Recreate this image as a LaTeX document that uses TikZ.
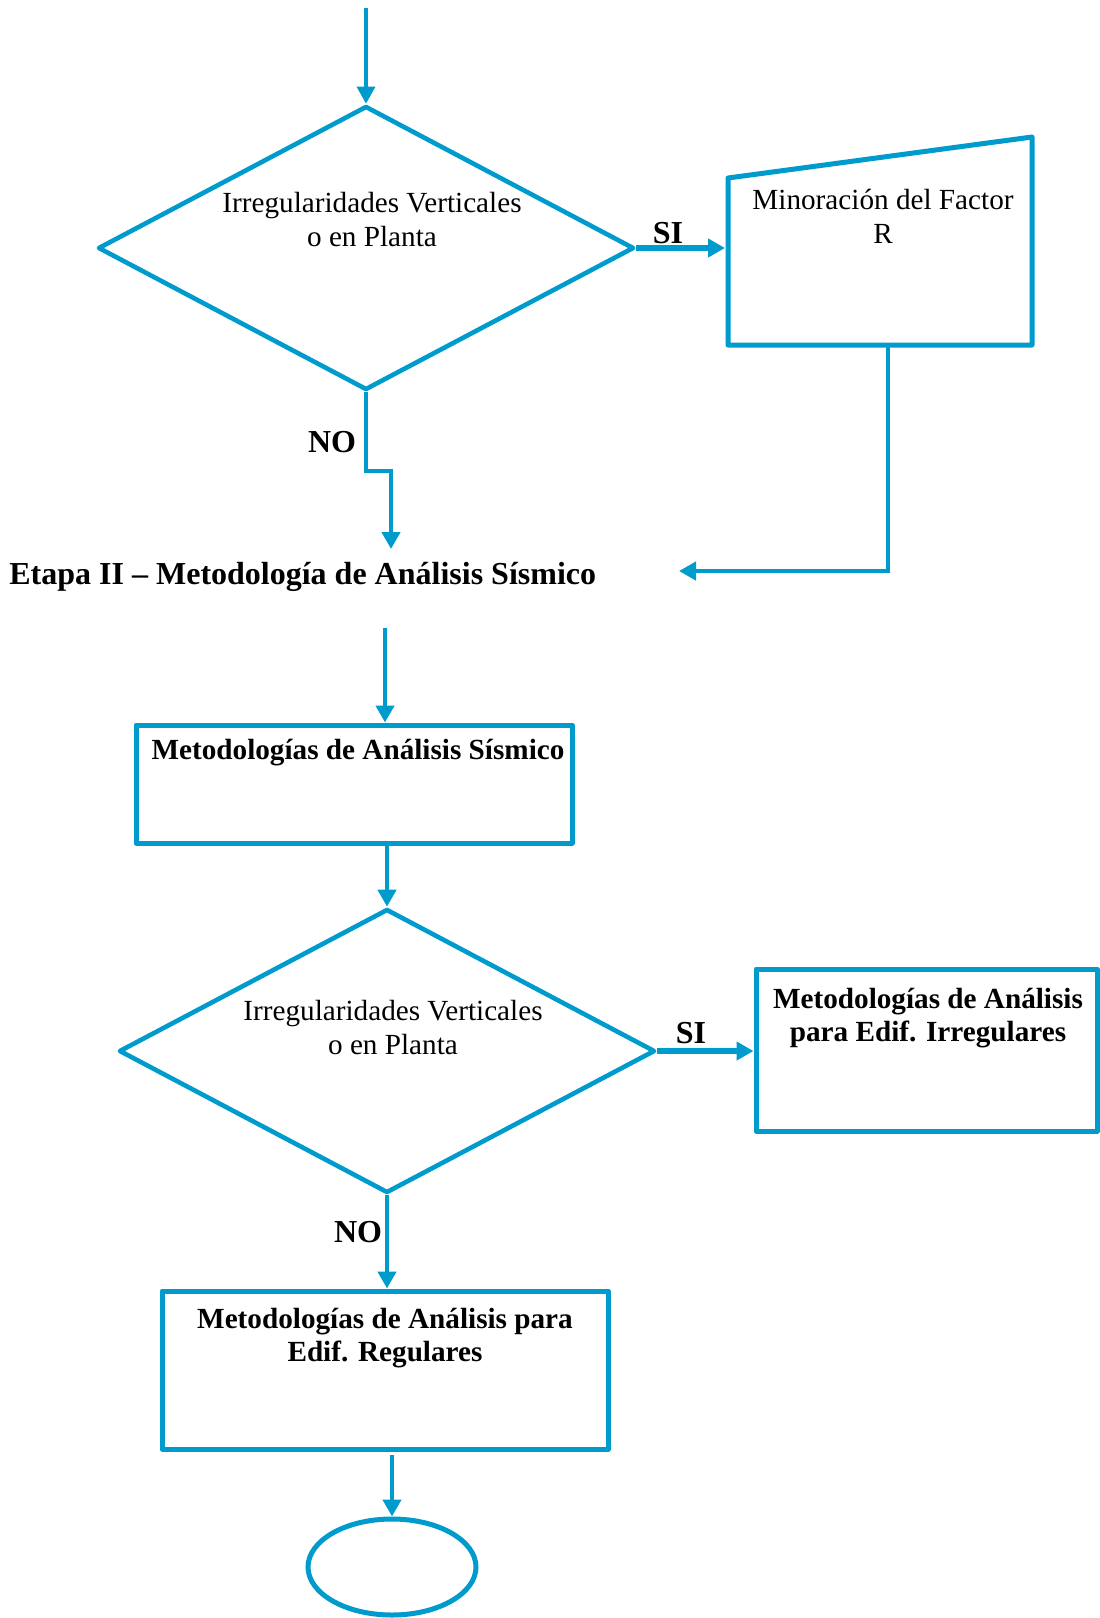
\documentclass[tikz,border=0pt]{standalone}
\usepackage{fontspec}
\setmainfont{Liberation Serif}
\usetikzlibrary{arrows.meta,shapes.geometric}
\definecolor{flow}{RGB}{0,155,205}
\begin{document}
\begin{tikzpicture}[x=0.5pt,y=-0.5pt,
  decision/.style={draw=flow,line width=2.3pt,diamond,minimum width=268pt,
    minimum height=142pt,inner sep=0pt,line join=round},
  procbox/.style={draw=flow,line width=2.5pt,rectangle,inner sep=0pt,line join=round},
  flowarrow/.style={draw=flow,line width=2.1pt,-{Triangle[length=8.5pt,width=9pt]}},
  thickarrow/.style={flowarrow,line width=2.6pt},
  plain/.style={font=\fontsize{14.6}{17}\selectfont,align=center,inner sep=0pt},
  strong/.style={font=\fontsize{14.6}{16.5}\selectfont\bfseries,align=center,inner sep=0pt},
  answer/.style={font=\fontsize{16}{18}\selectfont\bfseries,inner sep=0pt},
]
\useasboundingbox (0,0) rectangle (1099,1618);

% ---- first decision and the R reduction block ----
\coordinate (start) at (366,8);
\node[decision] (d1) at (366,248) {};
\node[plain] (d1t) at (372,220) {Irregularidades Verticales\\o en Planta};

\coordinate (m-sw) at (728,345);
\coordinate (m-nw) at (728,178);
\coordinate (m-ne) at (1032,137);
\coordinate (m-se) at (1032,345);
\draw[draw=flow,line width=2.5pt,line join=round] (m-sw) -- (m-nw) -- (m-ne) -- (m-se) -- cycle;
\node[plain] (mt) at (883,216) {Minoración del Factor\\R};
\coordinate (m-in) at (725,250);
\coordinate (m-out) at (888,345);

\node[answer] (si1) at (668,233) {SI};
\node[answer] (no1) at (332,442) {NO};

% ---- stage title ----
\node[font=\fontsize{16}{18}\selectfont\bfseries,anchor=base west,inner sep=0pt] (etapa) at (9,584)
  {Etapa II – Metodología de Análisis Sísmico};
\coordinate (no1bend) at (391,471);
\coordinate (no1end) at (391,549);
\coordinate (back) at (679,571);

% ---- analysis methodologies ----
\coordinate (start2) at (385,628);
\node[procbox,minimum width=218pt,minimum height=59pt] (b1) at (354,784) {};
\node[strong,anchor=base] (b1t) at (358,759) {Metodologías de Análisis Sísmico};

\node[decision] (d2) at (387,1051) {};
\node[plain] (d2t) at (393,1027) {Irregularidades Verticales\\o en Planta};

\node[procbox,minimum width=170.5pt,minimum height=81pt] (irr) at (926.5,1050) {};
\node[strong] (irrt) at (928,1018) {Metodologías de Análisis\\para Edif. Irregulares};

\node[answer] (si2) at (691,1033) {SI};
\node[answer] (no2) at (358,1232) {NO};

\node[procbox,minimum width=223pt,minimum height=79pt] (reg) at (385,1370) {};
\node[strong] (regt) at (385,1338) {Metodologías de Análisis para\\Edif. Regulares};

\node[draw=flow,line width=2.5pt,ellipse,minimum width=84pt,minimum height=48pt,inner sep=0pt] (fin) at (392,1567) {};
\coordinate (start3) at (392,1455);

% ---- connectors ----
\draw[flowarrow,line width=1.6pt] (start) -- (d1.north);
\draw[thickarrow] (d1.east) -- (d1.east -| m-in);
\draw[flowarrow] (d1.south) -- (d1.south |- no1bend) -| (no1end);
\draw[flowarrow] (m-out) |- (back);
\draw[flowarrow] (start2) -- (start2 |- b1.north);
\draw[flowarrow] (b1.south -| d2.north) -- (d2.north);
\draw[thickarrow] (d2.east) -- (d2.east -| irr.west);
\draw[flowarrow] (d2.south) -- (d2.south |- reg.north);
\draw[flowarrow] (start3) -- (fin.north);
\end{tikzpicture}
\end{document}
